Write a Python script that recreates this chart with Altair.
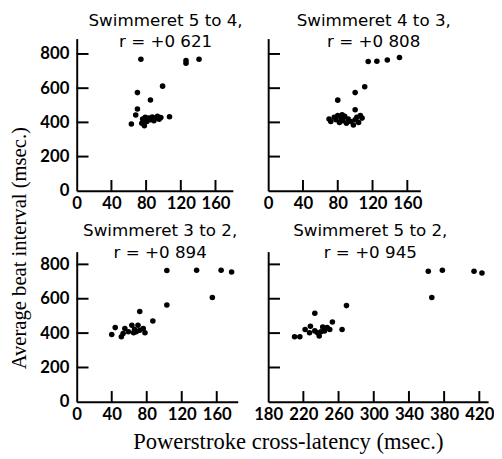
import altair as alt
import pandas as pd

# ---------------- data ----------------
p1_x = [74, 126, 126, 141, 99, 70, 85, 70, 68, 63, 107,
        75, 76, 78, 79, 81, 83, 85, 87, 89, 91, 93, 95, 97, 78]
p1_y = [769, 761, 746, 769, 612, 574, 531, 478, 443, 391, 433,
        395, 420, 410, 430, 405, 425, 415, 432, 410, 425, 435, 418, 428, 380]

p2_x = [115, 125, 137, 151, 111, 100, 80, 100,
        70, 72, 76, 78, 80, 82, 84, 86, 88, 90, 92, 95, 98, 100, 102, 104, 106, 108, 85]
p2_y = [756, 757, 765, 779, 608, 574, 530, 474,
        420, 405, 430, 415, 440, 400, 425, 410, 435, 395, 420, 405, 385, 415, 430, 400, 440, 425, 445]

p3_x = [40, 44, 51, 72, 87, 103, 103, 137, 155, 165, 177,
        53, 55, 59, 63, 66, 70, 72, 76, 78, 65, 68]
p3_y = [392, 432, 379, 526, 470, 764, 564, 766, 607, 766, 756,
        398, 427, 408, 446, 421, 446, 417, 427, 402, 402, 408]

p4_x = [210, 216, 233, 253, 264, 269, 222, 228, 227, 233, 236, 238, 242, 244, 247, 240, 250,
        362, 366, 378, 414, 423]
p4_y = [379, 379, 516, 465, 421, 560, 421, 440, 402, 413, 402, 383, 436, 413, 432, 408, 421,
        760, 607, 766, 760, 750]

titles = [
    ["Swimmeret 5 to 4,", "r = +0 621"],
    ["Swimmeret 4 to 3,", "r = +0 808"],
    ["Swimmeret 3 to 2,", "r = +0 894"],
    ["Swimmeret 5 to 2,", "r = +0 945"],
]

x_labels_a = [0, 40, 80, 120, 160]
x_ticks_a = [40, 80, 120, 160]
x_labels_b = [180, 220, 260, 300, 340, 380, 420]
x_ticks_b = [220, 260, 300, 340, 380, 420]
y_labels = [0, 200, 400, 600, 800]
y_ticks = [200, 400, 600, 800]

y_title = "Average beat interval (msec.)"
x_title = "Powerstroke cross-latency (msec.)"

SANS = "Lato"
TSANS = "DejaVu Sans"
SERIF = "Liberation Serif"


def panel(xs, ys, xdom, ydom, w, h, xlabels, xticks, show_ylabels, title, dx, toff,
          ytitle=None, xtitle=None):
    df = pd.DataFrame({"x": xs, "y": ys})
    xsc = alt.Scale(domain=xdom, nice=False, zero=False)
    ysc = alt.Scale(domain=ydom, nice=False, zero=False)

    xaxis_kw = dict(values=xlabels, labelOverlap=False, labelFlush=False,
                    grid=False, ticks=False, labelPadding=5, format="d",
                    domainColor="black", domainWidth=2)
    if xtitle:
        xaxis_kw.update(title=xtitle, titleX=20, titleY=47, titleAlign="center",
                        titleBaseline="alphabetic", titleFont=SERIF, titleFontSize=23,
                        titleFontWeight="normal", titleColor="black")
    else:
        xaxis_kw.update(title=None)

    if show_ylabels:
        yaxis_kw = dict(values=y_labels, labelOverlap=False, labelFlush=False,
                        grid=False, ticks=False, labelPadding=8, format="d",
                        domainColor="black", domainWidth=2)
    else:
        yaxis_kw = dict(values=y_labels, labels=False, grid=False, ticks=False,
                        domainColor="black", domainWidth=2)
    if ytitle:
        yaxis_kw.update(title=ytitle, titleY=213, titleAlign="center",
                        titlePadding=11, titleFont=SERIF, titleFontSize=21,
                        titleFontWeight="normal", titleColor="black")
    else:
        yaxis_kw.update(title=None)

    xax = alt.Axis(**xaxis_kw)
    yax = alt.Axis(**yaxis_kw)

    pts = alt.Chart(df).mark_circle(color="black", size=32, opacity=1).encode(
        x=alt.X("x:Q", scale=xsc, axis=xax),
        y=alt.Y("y:Q", scale=ysc, axis=yax),
    )
    yt = alt.Chart(pd.DataFrame({"v": y_ticks})).mark_rule(
        color="black", strokeWidth=2).encode(
        y=alt.Y("v:Q", scale=ysc, axis=yax),
        x=alt.value(0), x2=alt.value(12),
    )
    xt = alt.Chart(pd.DataFrame({"v": xticks})).mark_rule(
        color="black", strokeWidth=2).encode(
        x=alt.X("v:Q", scale=xsc, axis=xax),
        y=alt.value(h), y2=alt.value(h - 11),
    )
    return alt.layer(pts, yt, xt).properties(
        width=w, height=h,
        title=alt.TitleParams(text=title, anchor="middle", frame="group", dx=dx,
                              offset=toff, font=TSANS, fontSize=17, fontWeight="normal",
                              lineHeight=22, color="black"),
    )


c1 = panel(p1_x, p1_y, [0, 180], [0, 890], 159, 155, x_labels_a, x_ticks_a, True, titles[0], 11, -13,
           ytitle=y_title)
c2 = panel(p2_x, p2_y, [0, 175], [0, 890], 155, 155, x_labels_a, x_ticks_a, False, titles[1], 30, -13)
c3 = panel(p3_x, p3_y, [0, 184], [0, 874], 164, 153, x_labels_a, x_ticks_a, True, titles[2], 3, -10)
c4 = panel(p4_x, p4_y, [180, 430], [0, 874], 224, 153, x_labels_b, x_ticks_b, False, titles[3], -8, -10,
           xtitle=x_title)

chart = alt.concat(c1, c2, c3, c4, columns=2, spacing={"row": 62, "column": 31}).properties(
    align="each", bounds="flush", background="white", padding=0,
).configure_view(stroke="transparent", strokeWidth=0).configure_axis(
    labelFont=SANS, labelFontSize=17, labelFontWeight="bold", labelColor="black",
)

chart.save("out.html", embed_options={"renderer": "svg", "actions": False})
